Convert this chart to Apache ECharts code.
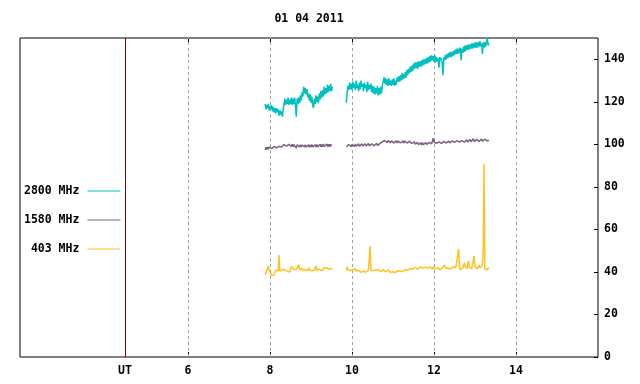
<!DOCTYPE html>
<html>
<head>
<meta charset="utf-8">
<script src="https://cdn.jsdelivr.net/npm/echarts@6/dist/echarts.min.js"></script>
<style>html,body{margin:0;padding:0;background:#fff;}#c{width:640px;height:384px;}</style>
</head>
<body>
<div id="c"></div>
<script>
const titleText = '01 04 2011';
const seriesNames = ['2800 MHz', '1580 MHz', '403 MHz'];
const seriesColors = ['#00c0c0', '#806080', '#ffc020'];
const xTickValues = [6, 8, 10, 12, 14];
const utPosition = 4.46;
const yTickValues = [0, 20, 40, 60, 80, 100, 120, 140];
const seg1Start = 7.88, seg2Start = 9.86, sampleStep = 0.02, gapTime = 9.69;

// 2800 MHz, segment 1 (7.88 h .. 9.52 h)
const mhz2800Seg1 = [
  119, 116.5, 118.5, 117, 119, 116, 118, 116.5, 118.5, 115.5,
  117.5, 115, 117, 114.5, 117, 115, 116.5, 113.5, 116, 114,
  115.5, 113, 116, 119, 121.5, 118.5, 121, 119, 122, 118.5,
  121, 119, 122, 118.5, 121.5, 119, 122, 118, 113, 121.5,
  119, 122, 119.5, 123, 120.5, 124.5, 122.5, 127, 124, 126.5,
  123.5, 126, 122, 124, 120.5, 123.5, 119.5, 122.5, 118.5, 117,
  121.5, 119, 123, 120, 122.5, 119.5, 124, 121, 125, 122,
  125.5, 122.5, 127, 123.5, 126.5, 124, 128, 124.5, 127.5, 125,
  128.5, 125, 127];
// 2800 MHz, segment 2 (9.86 h .. 13.34 h)
const mhz2800Seg2 = [
  119.5, 124, 127.5, 125.5, 129, 126, 128.5, 125.5, 129.5, 126.5,
  128.5, 125.5, 130, 126.5, 128, 125, 129, 126, 130, 127,
  128.5, 125, 129, 126.5, 128, 124.5, 129.5, 125.5, 128, 126,
  128.5, 124.5, 127.5, 124, 127, 123.5, 126.5, 124, 127.5, 123,
  126.5, 123.5, 127, 124, 128, 129.5, 131.5, 128.5, 131, 128,
  130.5, 127.5, 131, 128, 130, 127.5, 130.5, 128, 131, 127.5,
  130, 128, 131.5, 129.5, 132, 129.5, 132.5, 130, 133.5, 130.5,
  133, 131, 134, 131.5, 135, 132.5, 135.5, 133.5, 136.5, 134,
  137, 134.5, 138, 135.5, 138.5, 136, 138.5, 135.5, 139, 136.5,
  139, 136.5, 139.5, 137, 140, 137.5, 140, 138, 140.5, 138,
  141, 138.5, 141.5, 139, 142, 139.5, 141.5, 139, 142, 138.5,
  141, 139, 140.5, 136, 141, 139.5, 140.5, 138, 132.5, 141,
  139.5, 142, 140, 142.5, 140.5, 143, 141, 143.5, 141, 143.5,
  141.5, 144, 142, 144.5, 142.5, 145, 142.5, 145, 143, 145.5,
  139.5, 145, 143, 146, 143.5, 146.5, 144, 146.5, 144.5, 147,
  144.5, 147, 145, 147.5, 145, 147.5, 145.5, 148, 145.5, 148,
  145.5, 148, 146, 148.5, 146, 147.5, 142.5, 148, 145.5, 148,
  146, 148, 150, 146.5, 147.5];

// 1580 MHz
const mhz1580Seg1 = [
  97.4, 98.6, 97.6, 98.8, 97.7, 98.7, 97.9, 98.9, 98.0, 98.8,
  98.1, 99.0, 98.2, 98.9, 98.3, 99.2, 98.4, 99.1, 98.5, 99.4,
  98.7, 99.6, 98.9, 99.9, 99.1, 100.3, 99.2, 100.1, 99.0, 100.0,
  99.1, 100.2, 99.0, 100.0, 98.9, 99.9, 99.0, 100.1, 98.2, 99.8,
  98.9, 99.9, 98.8, 99.8, 98.7, 99.7, 98.9, 99.9, 98.8, 99.8,
  98.7, 99.6, 98.8, 99.8, 98.6, 99.7, 98.7, 99.9, 98.8, 99.7,
  98.9, 99.8, 98.8, 99.9, 98.7, 99.6, 98.9, 100.0, 98.8, 99.9,
  98.9, 100.1, 99.0, 99.8, 98.9, 100.2, 99.0, 100.0, 98.9, 100.1,
  99.1, 100.0, 99.4];
const mhz1580Seg2 = [
  98.8, 99.7, 98.9, 99.9, 99.0, 99.8, 98.9, 100.0, 99.1, 99.9,
  99.0, 100.1, 99.1, 99.9, 99.2, 100.2, 99.1, 100.0, 99.3, 100.2,
  99.2, 100.1, 99.3, 100.3, 99.2, 100.0, 99.4, 100.4, 99.3, 100.2,
  99.4, 100.3, 99.5, 100.4, 99.3, 100.2, 99.5, 100.5, 99.4, 100.3,
  99.6, 100.4, 99.7, 100.6, 101.2, 101.9, 100.8, 101.8, 100.9, 101.7,
  100.8, 101.8, 100.9, 101.6, 100.7, 101.7, 100.8, 101.9, 100.7, 101.6,
  100.8, 101.7, 100.6, 101.6, 100.7, 101.8, 100.6, 101.5, 100.7, 101.6,
  100.5, 101.6, 100.7, 101.5, 100.6, 101.4, 100.5, 101.5, 100.6, 101.3,
  100.4, 101.3, 100.3, 101.2, 100.1, 101.0, 100.0, 100.9, 99.9, 100.8,
  99.8, 100.7, 99.7, 100.8, 99.8, 100.6, 99.9, 100.9, 99.9, 100.8,
  100.0, 100.9, 100.1, 101.0, 100.2, 101.0, 102.9, 101.2, 100.3, 101.1,
  100.4, 101.3, 100.3, 101.2, 100.5, 101.4, 100.4, 101.3, 100.6, 101.4,
  100.5, 101.5, 100.6, 101.4, 100.7, 101.6, 100.6, 101.5, 100.8, 101.6,
  100.7, 101.7, 100.9, 101.6, 100.8, 101.8, 100.9, 101.7, 101.0, 101.9,
  100.9, 101.8, 101.1, 102.0, 101.0, 101.9, 101.2, 102.1, 101.1, 102.0,
  101.3, 102.3, 101.2, 102.1, 101.4, 102.6, 101.3, 102.2, 101.4, 102.3,
  101.5, 102.4, 101.4, 102.2, 101.6, 102.5, 101.5, 102.3, 101.6, 102.4,
  101.7, 102.5, 101.6, 102.3, 101.9];

// 403 MHz
const mhz403Seg1 = [
  38.8, 39.8, 39.3, 40.4, 42.6, 40.9, 40.1, 39.2, 38.2, 37.8,
  37.9, 38.6, 39.6, 40.8, 40.2, 41.2, 40.6, 48.0, 40.4, 41.0,
  40.3, 41.1, 40.6, 41.8, 41.0, 40.3, 40.8, 40.2, 41.0, 40.4,
  40.0, 40.6, 42.6, 41.8, 42.1, 41.3, 41.6, 40.6, 41.1, 40.3,
  40.7, 43.4, 40.9, 41.6, 41.1, 41.8, 40.6, 41.2, 40.5, 41.0,
  40.6, 41.5, 40.8, 42.0, 41.0, 40.4, 41.1, 40.5, 41.2, 40.6,
  40.9, 40.4, 42.8, 40.6, 41.0, 40.5, 41.3, 40.7, 41.1, 40.6,
  41.4, 40.9, 41.8, 42.3, 41.6, 42.0, 41.4, 41.8, 41.2, 41.5,
  41.1, 41.6, 41.3];
const mhz403Seg2 = [
  40.6, 42.3, 41.2, 40.4, 41.5, 40.7, 41.3, 40.5, 41.0, 40.3,
  40.9, 41.6, 40.4, 41.0, 40.2, 40.8, 39.9, 40.5, 39.8, 40.4,
  39.7, 40.3, 39.6, 40.2, 39.9, 40.6, 40.2, 41.0, 46.0, 52.2,
  40.8, 40.2, 41.3, 40.5, 41.1, 40.3, 40.9, 41.5, 40.4, 41.0,
  40.3, 40.9, 40.1, 40.7, 40.2, 41.1, 40.4, 40.8, 40.0, 40.6,
  40.2, 40.9, 40.1, 40.6, 39.8, 40.4, 39.6, 40.1, 39.5, 40.2,
  39.7, 40.3, 39.8, 40.6, 40.2, 41.0, 40.4, 40.0, 40.7, 40.1,
  40.8, 40.3, 41.1, 40.5, 41.4, 40.8, 41.5, 40.9, 41.6, 41.1,
  41.8, 41.2, 42.0, 41.4, 42.2, 41.5, 41.9, 41.3, 42.1, 41.6,
  42.3, 41.7, 42.4, 41.8, 42.6, 41.9, 42.3, 41.6, 42.5, 41.8,
  42.2, 41.5, 42.4, 41.7, 42.0, 41.3, 42.3, 41.6, 42.1, 41.4,
  41.9, 41.2, 42.0, 41.4, 40.9, 41.6, 41.2, 41.8, 41.4, 42.1,
  43.3, 41.6, 42.0, 41.3, 41.8, 41.1, 41.7, 41.4, 42.0, 41.5,
  42.3, 41.8, 42.6, 42.0, 43.0, 42.4, 43.6, 50.8, 42.2, 41.0,
  40.6, 41.5, 41.9, 42.8, 44.2, 42.6, 42.0, 41.6, 42.3, 45.2,
  42.0, 41.8, 42.5, 41.6, 42.1, 41.7, 47.5, 42.2, 41.9, 42.4,
  41.5, 42.1, 43.3, 41.8, 42.3, 41.6, 43.2, 49.5, 90.8, 41.4,
  40.8, 41.5, 41.0, 41.9, 42.0];

function buildData(s1, s2) {
  const out = s1.map((v, i) => [+(seg1Start + i * sampleStep).toFixed(2), v]);
  out.push([gapTime, '-']);
  s2.forEach((v, i) => out.push([+(seg2Start + i * sampleStep).toFixed(2), v]));
  return out;
}

const FONT = 'DejaVu Sans Mono';
const txt = { fontFamily: FONT, fontWeight: 'bold', fontSize: 11.5, color: '#000' };

const chart = echarts.init(document.getElementById('c'), null, { renderer: 'canvas' });
const seriesData = [
  buildData(mhz2800Seg1, mhz2800Seg2),
  buildData(mhz1580Seg1, mhz1580Seg2),
  buildData(mhz403Seg1, mhz403Seg2)
];

const series = seriesNames.map((name, k) => ({
  name: name,
  type: 'line',
  data: seriesData[k],
  showSymbol: false,
  symbol: 'none',
  connectNulls: false,
  color: seriesColors[k],
  lineStyle: { width: 1.5, color: seriesColors[k] },
  z: 3
}));

series.unshift({
  name: 'grid',
  type: 'line',
  data: [],
  silent: true,
  z: 1,
  markLine: {
    silent: true,
    symbol: 'none',
    z: 1,
    label: { show: false },
    animation: false,
    data: xTickValues.map(v => ({ xAxis: v, lineStyle: { color: '#a0a0a0', type: [3, 3], width: 1 } }))
      .concat([{ xAxis: utPosition, lineStyle: { color: '#800000', type: 'solid', width: 1 } }])
  }
});

chart.setOption({
  animation: false,
  backgroundColor: '#fff',
  title: {
    text: titleText,
    left: 309, top: 13, padding: 0,
    textAlign: 'center',
    textStyle: txt
  },
  legend: {
    data: seriesNames,
    orient: 'vertical',
    left: 24, top: 185, padding: 0,
    align: 'right',
    icon: 'rect',
    itemWidth: 33, itemHeight: 1, itemGap: 17,
    selectedMode: false,
    textStyle: Object.assign({}, txt, { padding: [0, 3, 0, 0] })
  },
  grid: {
    show: true, left: 20, right: 42, top: 38, bottom: 27,
    borderColor: '#000', borderWidth: 1, backgroundColor: 'transparent'
  },
  xAxis: [{
    type: 'value', position: 'bottom', min: 1.9, max: 16,
    axisLine: { show: false },
    axisTick: { show: true, inside: true, length: 5, lineStyle: { color: '#000' }, customValues: xTickValues },
    axisLabel: Object.assign({ customValues: [utPosition].concat(xTickValues), margin: 8,
      formatter: v => (Math.abs(v - utPosition) < 1e-6 ? 'UT' : String(v)) }, txt),
    splitLine: { show: false }
  }, {
    type: 'value', position: 'top', min: 1.9, max: 16,
    axisLine: { show: false },
    axisTick: { show: true, inside: true, length: 5, lineStyle: { color: '#000' }, customValues: xTickValues },
    axisLabel: { show: false },
    splitLine: { show: false }
  }],
  yAxis: {
    type: 'value', position: 'right', min: 0, max: 150,
    axisLine: { show: false },
    axisTick: { show: true, inside: true, length: 4, lineStyle: { color: '#000' }, customValues: yTickValues },
    axisLabel: Object.assign({ customValues: yTickValues, margin: 6 }, txt),
    splitLine: { show: false }
  },
  series: series
});
</script>
</body>
</html>
